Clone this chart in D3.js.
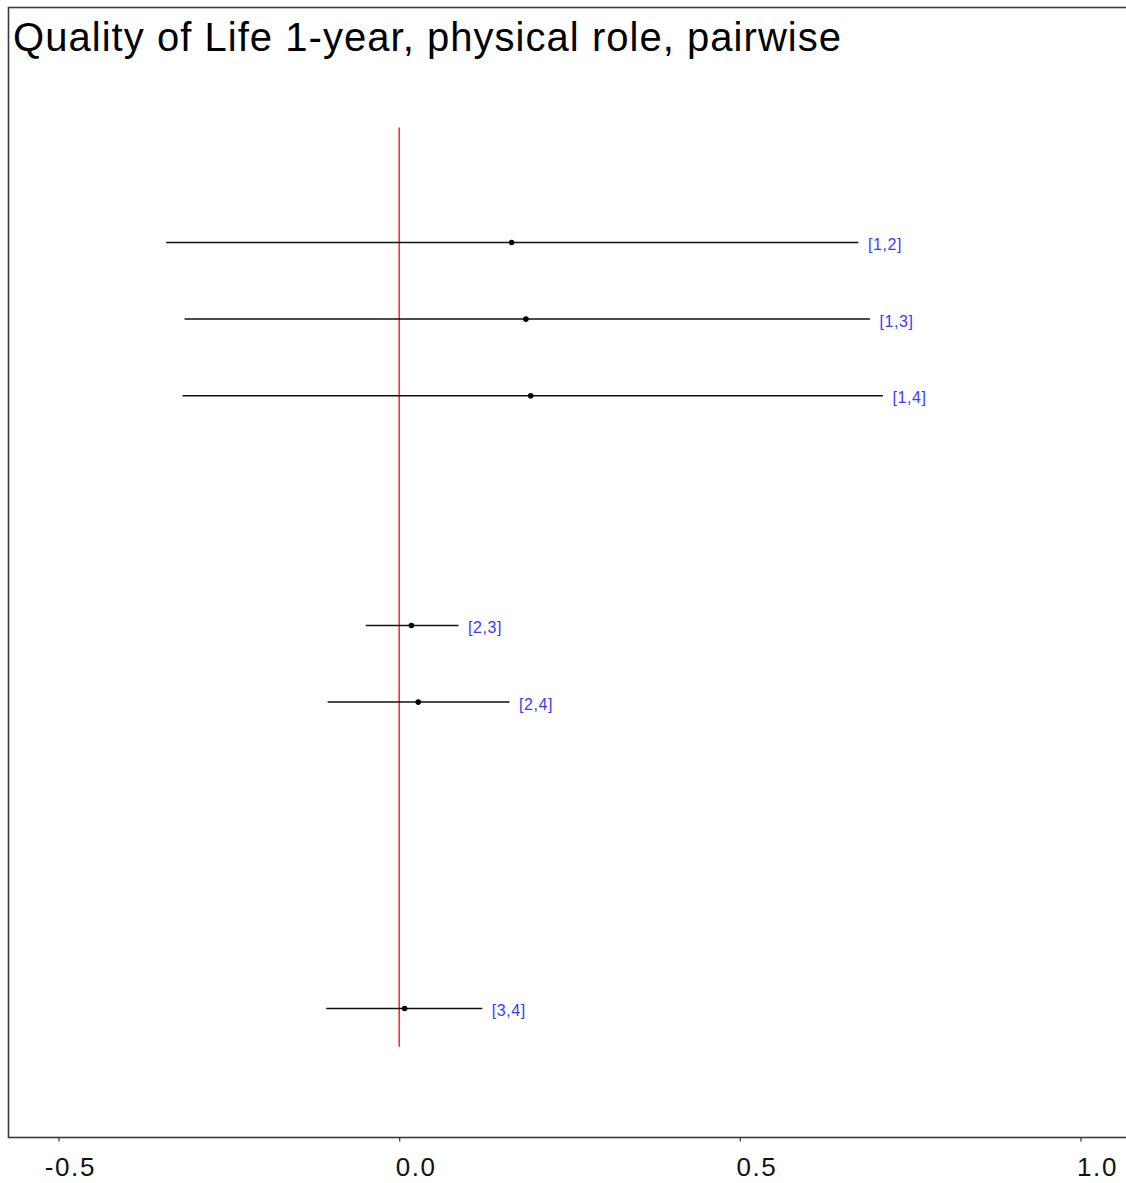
<!DOCTYPE html>
<html>
<head>
<meta charset="utf-8">
<script src="https://cdn.jsdelivr.net/npm/d3@7"></script>
<style>
  html, body { margin: 0; padding: 0; background: #fff; }
  svg { display: block; }
</style>
</head>
<body>
<svg id="chart" width="1126" height="1183"></svg>
<script>
const title = "Quality of Life 1-year, physical role, pairwise";
const categories = ["[1,2]", "[1,3]", "[1,4]", "[2,3]", "[2,4]", "[3,4]"];
const rowIndex = [1, 2, 3, 6, 7, 11];
const lower = [-0.342, -0.315, -0.318, -0.049, -0.105, -0.107];
const estimate = [0.165, 0.186, 0.193, 0.018, 0.028, 0.008];
const upper = [0.674, 0.691, 0.710, 0.087, 0.162, 0.122];
const xTicks = [-0.5, 0.0, 0.5, 1.0];
const xTickLabels = ["-0.5", "0.0", "0.5", "1.0"];

const svg = d3.select("#chart");
const font = "Arial, 'Liberation Sans', sans-serif";

const x = d3.scaleLinear().domain([-0.5, 1.0]).range([58.5, 1080.5]);
const y = d3.scaleLinear().domain([1, 11]).range([242.5, 1008.5]);

// frame
svg.append("rect")
  .attr("x", 8.5).attr("y", 7.5)
  .attr("width", 1130).attr("height", 1130)
  .attr("fill", "none").attr("stroke", "#3a3a3a").attr("stroke-width", 1.6);

// title
svg.append("text")
  .attr("x", 13).attr("y", 51)
  .attr("font-family", font).attr("font-size", 40)
  .attr("textLength", 828).attr("lengthAdjust", "spacing")
  .attr("fill", "#000")
  .text(title);

// x axis
const axis = d3.axisBottom(x)
  .tickValues(xTicks)
  .tickFormat((d, i) => xTickLabels[i])
  .tickSize(4)
  .tickPadding(14);
const gAxis = svg.append("g").attr("transform", "translate(0,1137.5)").call(axis);
gAxis.select(".domain").remove();
gAxis.selectAll(".tick line").attr("stroke", "#333").attr("stroke-width", 1.2);
gAxis.selectAll(".tick text")
  .attr("font-family", font).attr("font-size", 26).attr("fill", "#111")
  .attr("letter-spacing", 1.6)
  .attr("text-anchor", "end")
  .attr("x", 37)
  .attr("y", 38.5)
  .attr("dy", null);

// zero line
svg.append("line")
  .attr("x1", x(0)).attr("x2", x(0))
  .attr("y1", y(-0.5)).attr("y2", y(11.5))
  .attr("stroke", "#ff0000").attr("stroke-width", 1.3);

const data = categories.map((c, i) => ({
  label: c, row: rowIndex[i], lo: lower[i], est: estimate[i], hi: upper[i]
}));

const g = svg.append("g");
g.selectAll("line.ci").data(data).enter().append("line")
  .attr("class", "ci")
  .attr("x1", d => x(d.lo)).attr("x2", d => x(d.hi))
  .attr("y1", d => y(d.row)).attr("y2", d => y(d.row))
  .attr("stroke", "#111").attr("stroke-width", 1.5);

g.selectAll("circle.pt").data(data).enter().append("circle")
  .attr("class", "pt")
  .attr("cx", d => x(d.est)).attr("cy", d => y(d.row))
  .attr("r", 2.8).attr("fill", "#000");

g.selectAll("text.lab").data(data).enter().append("text")
  .attr("class", "lab")
  .attr("x", d => x(d.hi) + 9.5).attr("y", d => y(d.row) + 7.5)
  .attr("font-family", font).attr("font-size", 16)
  .attr("letter-spacing", 0.6)
  .attr("fill", "#3d3aff")
  .text(d => d.label);
</script>
</body>
</html>
